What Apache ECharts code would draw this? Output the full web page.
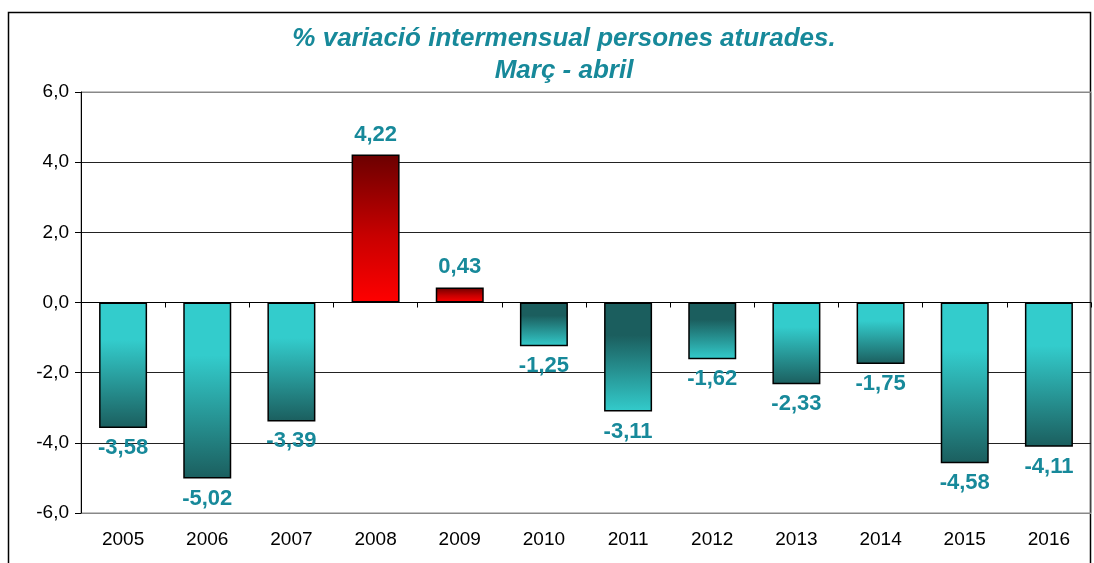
<!DOCTYPE html>
<html>
<head>
<meta charset="utf-8">
<style>
  html, body { margin: 0; padding: 0; background: #fff; }
  #chart { width: 1094px; height: 563px; }
</style>
<script src="https://cdn.jsdelivr.net/npm/echarts@6/dist/echarts.min.js"></script>
</head>
<body>
<div id="chart"></div>
<script>
// anys i % de variació
var years = ['2005', '2006', '2007', '2008', '2009', '2010', '2011', '2012', '2013', '2014', '2015', '2016'];
var values = [-3.58, -5.02, -3.39, 4.22, 0.43, -1.25, -3.11, -1.62, -2.33, -1.75, -4.58, -4.11];
var yTicks = [-6, -4, -2, 0, 2, 4, 6];

// barres amb el degradat invertit (fosc a dalt)
var darkTopYears = ['2010', '2011', '2012'];

var teal = '#17899a';

function fmt(v, d) {
    return v.toFixed(d).replace('.', ',');
}

function barColor(year, v) {
    if (v > 0) {
        return new echarts.graphic.LinearGradient(0, 0, 0, 1, [
            { offset: 0, color: '#6b0000' },
            { offset: 0.55, color: '#c80000' },
            { offset: 1, color: '#ff0000' }
        ]);
    }
    var light = '#33cccc', dark = '#1b5e5e';
    var top = light, bottom = dark;
    if (darkTopYears.indexOf(year) >= 0) { top = dark; bottom = light; }
    return new echarts.graphic.LinearGradient(0, 0, 0, 1, [
        { offset: 0, color: top },
        { offset: 0.3, color: top },
        { offset: 1, color: bottom }
    ]);
}

var barData = values.map(function (v, i) {
    return {
        value: v,
        itemStyle: { color: barColor(years[i], v) },
        label: { position: v < 0 ? 'bottom' : 'top' }
    };
});

var myChart = echarts.init(document.getElementById('chart'));

var option = {
    animation: false,
    title: {
        text: '% variació intermensual persones aturades.\nMarç - abril',
        left: 559,
        textAlign: 'center',
        top: 18,
        textStyle: {
            color: teal,
            fontFamily: 'Liberation Sans, Arial, sans-serif',
            fontStyle: 'italic',
            fontWeight: 'bold',
            fontSize: 26,
            lineHeight: 32
        }
    },
    graphic: [{
        type: 'rect',
        shape: { x: 8.5, y: 12.5, width: 1082, height: 600 },
        style: { fill: 'none', stroke: '#000', lineWidth: 1.5 },
        z: -1
    }],
    grid: {
        left: 81, right: 3, top: 92, bottom: 50,
        show: true,
        borderColor: '#888',
        borderWidth: 1
    },
    xAxis: [{
        type: 'category',
        data: years,
        position: 'bottom',
        axisLine: { show: false, onZero: false },
        axisTick: { show: false },
        axisLabel: {
            color: '#000',
            fontFamily: 'Liberation Sans, Arial, sans-serif',
            fontSize: 19,
            margin: 17
        }
    }, {
        type: 'category',
        data: years,
        position: 'bottom',
        axisLine: { show: true, onZero: true, lineStyle: { color: '#000', width: 1 } },
        axisTick: { show: true, length: 5, lineStyle: { color: '#000' } },
        axisLabel: { show: false }
    }],
    yAxis: {
        type: 'value',
        min: yTicks[0],
        max: yTicks[yTicks.length - 1],
        interval: 2,
        axisLine: { show: true, lineStyle: { color: '#000', width: 1 } },
        axisTick: { show: true, length: 6, lineStyle: { color: '#000' } },
        splitLine: { lineStyle: { color: ['#888', '#222', '#222', '#222', '#222', '#222', '#888'], width: 1 } },
        axisLabel: {
            color: '#000',
            fontFamily: 'Liberation Sans, Arial, sans-serif',
            fontSize: 19,
            margin: 12,
            formatter: function (v) { return fmt(v, 1); }
        }
    },
    series: [{
        type: 'bar',
        xAxisIndex: 0,
        data: barData,
        barWidth: 48,
        itemStyle: { borderColor: '#000', borderWidth: 1.5 },
        label: {
            show: true,
            distance: 9,
            color: teal,
            fontFamily: 'Liberation Sans, Arial, sans-serif',
            fontWeight: 'bold',
            fontSize: 22,
            formatter: function (p) { return fmt(p.value, 2); }
        }
    }]
};

myChart.setOption(option);
</script>
</body>
</html>
